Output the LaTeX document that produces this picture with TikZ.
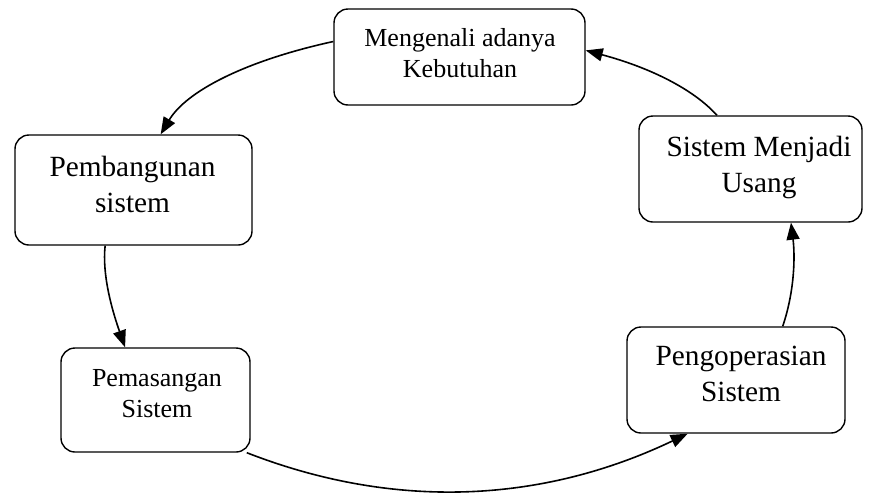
\documentclass[tikz,border=0pt]{standalone}
\usepackage{fontspec}
\setmainfont{Liberation Serif}
\usetikzlibrary{arrows.meta}
\begin{document}
\begin{tikzpicture}[x=1pt,y=-1pt,
  box/.style={draw=black,line width=1.4pt,rounded corners=14pt,rectangle,inner sep=0pt},
  small/.style={align=center,inner sep=0pt,font=\fontsize{26}{31}\selectfont},
  big/.style={align=center,inner sep=0pt,font=\fontsize{29.3}{36}\selectfont},
  arr/.style={line width=1.6pt,-{Triangle[length=17pt,width=13pt]}}]
\useasboundingbox (0,0) rectangle (869,493);
% boxes
\node[box,minimum width=251pt,minimum height=96pt] (top) at (459.5,57) {};
\node[box,minimum width=237pt,minimum height=110pt] (pb) at (133.5,190) {};
\node[box,minimum width=223pt,minimum height=106pt] (us) at (750.5,169) {};
\node[box,minimum width=189pt,minimum height=104pt] (pm) at (155.5,400) {};
\node[box,minimum width=218pt,minimum height=106pt] (po) at (736,380) {};
% texts
\node[small] (ttop) at (460,53.5) {Mengenali adanya\\Kebutuhan};
\node[big] (tpb) at (132.5,184.4) {Pembangunan\\sistem};
\node[big] (tus) at (759,167.6) {Sistem Menjadi\\Usang};
\node[small] (tpm) at (157,393.4) {Pemasangan\\Sistem};
\node[big] (tpo) at (741,373.9) {Pengoperasian\\Sistem};
% connectors
\draw[arr] (top.173.6) .. controls (244,61) and (186,91.7) .. (pb.64.3);
\draw[arr] (pb.-117.4) .. controls (102,275) and (112,310) .. (pm.120.4);
\draw[arr] (pm.-30.2) .. controls (392.9,509.7) and (540.2,504) .. (po.-132.8);
\draw[arr] (po.49) .. controls (795,290) and (795,255) .. (us.-53.3);
\draw[arr] (us.122.3) .. controls (693.7,89.4) and (650.4,67.7) .. (top.3.2);
\end{tikzpicture}
\end{document}
